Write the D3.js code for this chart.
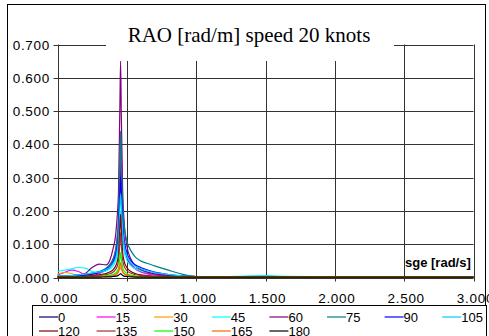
<!DOCTYPE html>
<html>
<head>
<meta charset="utf-8">
<script src="https://cdn.jsdelivr.net/npm/d3@7"></script>
<style>
  body { margin: 0; background: #fff; }
  svg { display: block; }
  text { font-family: "Liberation Sans", Arial, sans-serif; }
</style>
</head>
<body>
<div id="chart"></div>
<script>
// frequency grid [rad/s]
const omega = [0, 0.05, 0.1, 0.15, 0.2, 0.25, 0.3, 0.35, 0.38, 0.4, 0.42, 0.43, 0.44, 0.45, 0.455, 0.46,
  0.47, 0.48, 0.5, 0.53, 0.56, 0.6, 0.65, 0.7, 0.8, 0.9, 1.0, 1.2, 1.5, 1.6, 2.0, 2.5, 3.0];

// heading labels (deg)
const headings = ['0', '15', '30', '45', '60', '75', '90', '105', '120', '135', '150', '165', '180'];
const colors = ['#000080', '#FF00FF', '#FF9900', '#00FFFF', '#800080', '#008080', '#0000FF', '#00CCFF',
  '#800000', '#993333', '#00FF00', '#FF6600', '#000000'];

// RAO values per heading
const rao0 = [0.003, 0.003, 0.004, 0.005, 0.007, 0.010, 0.014, 0.022, 0.032, 0.045, 0.070, 0.095, 0.140, 0.280, 0.350, 0.270,
  0.150, 0.100, 0.060, 0.038, 0.027, 0.019, 0.013, 0.010, 0.006, 0.004, 0.002, 0.002, 0.002, 0.002, 0.001, 0.001, 0.001];
const rao15 = [0.008, 0.015, 0.022, 0.018, 0.008, 0.006, 0.012, 0.025, 0.040, 0.055, 0.085, 0.115, 0.170, 0.340, 0.430, 0.320,
  0.170, 0.115, 0.065, 0.040, 0.026, 0.017, 0.011, 0.008, 0.005, 0.003, 0.002, 0.002, 0.001, 0.001, 0.001, 0.001, 0.001];
const rao30 = [0.010, 0.015, 0.012, 0.006, 0.003, 0.003, 0.004, 0.005, 0.006, 0.008, 0.011, 0.014, 0.020, 0.026, 0.030, 0.025,
  0.016, 0.011, 0.007, 0.005, 0.003, 0.002, 0.002, 0.001, 0.001, 0.001, 0.001, 0.001, 0.001, 0.001, 0.001, 0.001, 0.001];
const rao45 = [0.018, 0.022, 0.026, 0.030, 0.028, 0.018, 0.016, 0.020, 0.026, 0.034, 0.050, 0.066, 0.095, 0.170, 0.200, 0.170,
  0.110, 0.080, 0.052, 0.035, 0.026, 0.020, 0.015, 0.011, 0.007, 0.004, 0.003, 0.003, 0.006, 0.004, 0.002, 0.001, 0.001];
const rao60 = [0.002, 0.003, 0.004, 0.006, 0.012, 0.030, 0.040, 0.038, 0.055, 0.085, 0.130, 0.180, 0.260, 0.520, 0.650, 0.490,
  0.260, 0.170, 0.095, 0.055, 0.035, 0.024, 0.016, 0.011, 0.006, 0.004, 0.003, 0.002, 0.002, 0.002, 0.001, 0.001, 0.001];
const rao75 = [0.004, 0.005, 0.006, 0.008, 0.010, 0.013, 0.018, 0.028, 0.040, 0.055, 0.085, 0.120, 0.180, 0.360, 0.440, 0.360,
  0.220, 0.160, 0.110, 0.080, 0.062, 0.050, 0.042, 0.035, 0.022, 0.010, 0.003, 0.002, 0.002, 0.002, 0.001, 0.001, 0.001];
const rao90 = [0.003, 0.004, 0.005, 0.006, 0.008, 0.011, 0.016, 0.025, 0.034, 0.046, 0.068, 0.090, 0.130, 0.250, 0.300, 0.260,
  0.160, 0.115, 0.075, 0.050, 0.038, 0.030, 0.022, 0.016, 0.009, 0.005, 0.003, 0.002, 0.002, 0.002, 0.001, 0.001, 0.001];
const rao105 = [0.004, 0.005, 0.006, 0.008, 0.010, 0.013, 0.017, 0.024, 0.032, 0.042, 0.060, 0.080, 0.115, 0.210, 0.250, 0.220,
  0.140, 0.100, 0.066, 0.045, 0.034, 0.027, 0.020, 0.015, 0.009, 0.005, 0.003, 0.002, 0.004, 0.003, 0.002, 0.001, 0.001];
const rao120 = [0.002, 0.002, 0.003, 0.003, 0.004, 0.006, 0.008, 0.012, 0.017, 0.023, 0.035, 0.047, 0.070, 0.150, 0.190, 0.145,
  0.075, 0.050, 0.030, 0.018, 0.012, 0.008, 0.006, 0.004, 0.003, 0.002, 0.002, 0.002, 0.003, 0.002, 0.002, 0.003, 0.001];
const rao135 = [0.002, 0.002, 0.002, 0.003, 0.003, 0.004, 0.006, 0.009, 0.012, 0.016, 0.025, 0.033, 0.050, 0.105, 0.135, 0.100,
  0.053, 0.035, 0.021, 0.013, 0.009, 0.006, 0.004, 0.003, 0.002, 0.002, 0.001, 0.001, 0.002, 0.002, 0.002, 0.003, 0.001];
const rao150 = [0.001, 0.001, 0.001, 0.002, 0.002, 0.002, 0.003, 0.005, 0.007, 0.009, 0.014, 0.019, 0.028, 0.060, 0.075, 0.056,
  0.030, 0.020, 0.012, 0.007, 0.005, 0.003, 0.002, 0.002, 0.001, 0.001, 0.001, 0.001, 0.001, 0.001, 0.001, 0.001, 0.001];
const rao165 = [0.001, 0.001, 0.001, 0.001, 0.001, 0.002, 0.002, 0.003, 0.004, 0.005, 0.008, 0.011, 0.017, 0.036, 0.045, 0.034,
  0.018, 0.012, 0.007, 0.004, 0.003, 0.002, 0.001, 0.001, 0.001, 0.001, 0.001, 0.001, 0.001, 0.001, 0.001, 0.001, 0.001];
const rao180 = [0.001, 0.001, 0.001, 0.001, 0.001, 0.001, 0.001, 0.002, 0.002, 0.003, 0.004, 0.005, 0.007, 0.010, 0.012, 0.010,
  0.006, 0.004, 0.003, 0.002, 0.001, 0.001, 0.001, 0.001, 0.001, 0.001, 0.001, 0.001, 0.001, 0.001, 0.001, 0.001, 0.001];

const series = [rao0, rao15, rao30, rao45, rao60, rao75, rao90, rao105, rao120, rao135, rao150, rao165, rao180];

const yTicks = [0, 0.1, 0.2, 0.3, 0.4, 0.5, 0.6, 0.7];
const xTicks = [0, 0.5, 1.0, 1.5, 2.0, 2.5, 3.0];

const width = 489, height = 336;
const svg = d3.select('#chart').append('svg')
  .attr('width', width)
  .attr('height', height);

const x = d3.scaleLinear().domain([0, 3]).range([57.5, 473.5]);
const y = d3.scaleLinear().domain([0, 0.7]).range([277.5, 44.5]);

// outer frame
svg.append('rect')
  .attr('x', 7.5).attr('y', 4.5)
  .attr('width', 478).attr('height', 340)
  .attr('fill', 'none').attr('stroke', '#000');

// grid
const grid = svg.append('g').attr('stroke', '#333').attr('stroke-width', 1);
grid.selectAll('line.h')
  .data(yTicks)
  .enter().append('line')
  .attr('x1', x(0) - 4).attr('x2', x(3))
  .attr('y1', d => Math.round(y(d)) + 0.5).attr('y2', d => Math.round(y(d)) + 0.5);
grid.selectAll('line.v')
  .data(xTicks)
  .enter().append('line')
  .attr('y1', y(0.7)).attr('y2', y(0) + 4)
  .attr('x1', d => Math.round(x(d)) + 0.5).attr('x2', d => Math.round(x(d)) + 0.5);

// tick labels
svg.append('g').selectAll('text')
  .data(yTicks)
  .enter().append('text')
  .attr('x', 50).attr('y', d => y(d) + 5)
  .attr('text-anchor', 'end')
  .style('font-size', '13.5px')
  .style('letter-spacing', '0.7px')
  .text(d => d3.format('.3f')(d));

svg.append('g').selectAll('text')
  .data(xTicks)
  .enter().append('text')
  .attr('x', d => x(d) + 2).attr('y', 303)
  .attr('text-anchor', 'middle')
  .style('font-size', '13.5px')
  .style('letter-spacing', '0.7px')
  .text(d => d3.format('.3f')(d));

// title box covers the top of the grid
svg.append('rect')
  .attr('x', 106).attr('y', 20)
  .attr('width', 288).attr('height', 41)
  .attr('fill', '#fff');
svg.append('text')
  .attr('x', 249).attr('y', 42)
  .attr('text-anchor', 'middle')
  .style('font-family', '"Liberation Serif", "Times New Roman", serif')
  .style('font-size', '21px')
  .text('RAO [rad/m] speed 20 knots');

// curves
const line = d3.line()
  .x((d, i) => x(omega[i]))
  .y(d => y(d))
  .curve(d3.curveMonotoneX);

svg.append('g').selectAll('path')
  .data(series)
  .enter().append('path')
  .attr('d', line)
  .attr('fill', 'none')
  .attr('stroke', (d, i) => colors[i])
  .attr('stroke-width', 1.2);

// axis name
svg.append('text')
  .attr('x', 405).attr('y', 267)
  .style('font-size', '13px')
  .style('font-weight', 'bold')
  .text('sge [rad/s]');

// legend
const legend = svg.append('g');
legend.append('rect')
  .attr('x', 32.5).attr('y', 305.5)
  .attr('width', 454).attr('height', 40)
  .attr('fill', '#fff').attr('stroke', '#000');

const item = legend.selectAll('g')
  .data(headings)
  .enter().append('g')
  .attr('transform', (d, i) => `translate(${39 + (i % 8) * 57.6},${i < 8 ? 317 : 331})`);
item.append('line')
  .attr('x1', 0).attr('x2', 19)
  .attr('stroke', (d, i) => colors[i])
  .attr('stroke-width', 1.2);
item.append('text')
  .attr('x', 19).attr('y', 4.5)
  .style('font-size', '13px')
  .text(d => d);
</script>
</body>
</html>
